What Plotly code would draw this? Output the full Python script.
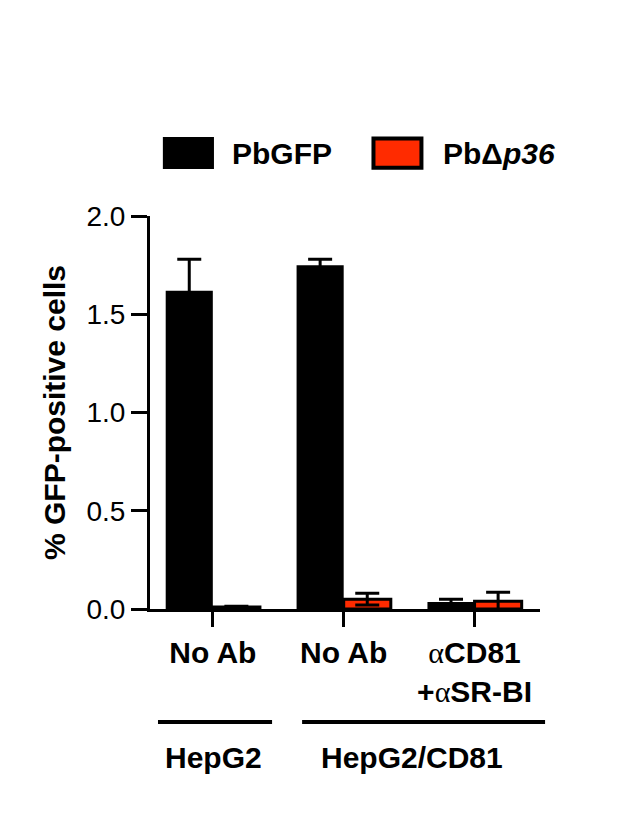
import plotly.graph_objects as go

ALPHA = '<span style="font-family:Liberation Serif, Times New Roman, serif; font-weight:normal">\u03b1</span>'

categories = ["c1", "c2", "c3"]
tick_text = ["No Ab", "No Ab", f"{ALPHA}CD81<br>+{ALPHA}SR-BI"]
pbgfp = [1.62, 1.75, 0.035]
pbgfp_err = [0.16, 0.03, 0.015]
pbp36 = [0.01, 0.05, 0.04]
pbp36_err = [0.004, 0.03, 0.045]
series_names = ["PbGFP", "Pb\u0394<i>p36</i>"]
group_labels = ["HepG2", "HepG2/CD81"]

FONT = "Liberation Sans, Arial, sans-serif"
RED = "#FF2B00"

fig = go.Figure()
fig.add_trace(go.Bar(
    x=categories, y=pbgfp, name=series_names[0],
    marker=dict(color="black", line=dict(color="black", width=0)),
    error_y=dict(type="data", array=pbgfp_err, symmetric=True,
                 color="black", thickness=3, width=12),
    showlegend=False,
))
fig.add_trace(go.Bar(
    x=categories, y=pbp36, name=series_names[1],
    marker=dict(color=RED, line=dict(color="black", width=3)),
    error_y=dict(type="data", array=pbp36_err, symmetric=True,
                 color="black", thickness=3, width=12),
    showlegend=False,
))

fig.update_layout(
    width=601, height=806,
    margin=dict(l=142, r=69, t=208, b=205, autoexpand=False),
    paper_bgcolor="white", plot_bgcolor="white",
    barmode="group", bargap=0.28, bargroupgap=0,
    font=dict(family=FONT, color="black"),
)
fig.update_xaxes(
    type="category", range=[-0.48, 2.5],
    tickvals=categories, ticktext=[f"<b>{t}</b>" for t in tick_text],
    tickfont=dict(size=30, family=FONT, color="black"),
    showline=True, linewidth=3, linecolor="black",
    ticks="outside", ticklen=15, tickwidth=3, tickcolor="black",
    showgrid=False, zeroline=False, ticklabelstandoff=0,
)
fig.update_yaxes(
    range=[0, 2.0], tickvals=[0, 0.5, 1.0, 1.5, 2.0],
    ticktext=["0.0", "0.5", "1.0", "1.5", "2.0"],
    tickfont=dict(size=28, family=FONT, color="black"),
    showline=True, linewidth=3, linecolor="black",
    ticks="outside", ticklen=16, tickwidth=3, tickcolor="black",
    showgrid=False, zeroline=False,
    title=dict(text="<b>% GFP-positive cells</b>",
               font=dict(size=30, family=FONT, color="black"), standoff=12),
)

# legend (drawn manually to get the large swatches)
fig.add_shape(type="rect", xref="paper", yref="paper",
              x0=0.033, x1=0.164, y0=1.1196, y1=1.201,
              fillcolor="black", line=dict(color="black", width=0))
fig.add_shape(type="rect", xref="paper", yref="paper",
              x0=0.573, x1=0.696, y0=1.123, y1=1.197,
              fillcolor=RED, line=dict(color="black", width=4))
fig.add_annotation(xref="paper", yref="paper", x=0.205, y=1.160,
                   text=f"<b>{series_names[0]}</b>", showarrow=False,
                   xanchor="left", yanchor="middle",
                   font=dict(size=30, family=FONT, color="black"))
fig.add_annotation(xref="paper", yref="paper", x=0.745, y=1.160,
                   text=f"<b>{series_names[1]}</b>", showarrow=False,
                   xanchor="left", yanchor="middle",
                   font=dict(size=30, family=FONT, color="black"))

# group brackets
fig.add_shape(type="line", xref="paper", yref="paper",
              x0=0.0205, x1=0.313, y0=-0.2875, y1=-0.2875,
              line=dict(color="black", width=4))
fig.add_shape(type="line", xref="paper", yref="paper",
              x0=0.390, x1=1.013, y0=-0.2875, y1=-0.2875,
              line=dict(color="black", width=4))
fig.add_annotation(xref="paper", yref="paper", x=0.164, y=-0.379,
                   text=f"<b>{group_labels[0]}</b>", showarrow=False,
                   xanchor="center", yanchor="middle",
                   font=dict(size=30, family=FONT, color="black"))
fig.add_annotation(xref="paper", yref="paper", x=0.673, y=-0.379,
                   text=f"<b>{group_labels[1]}</b>", showarrow=False,
                   xanchor="center", yanchor="middle",
                   font=dict(size=30, family=FONT, color="black"))

fig.write_html("out.html")
